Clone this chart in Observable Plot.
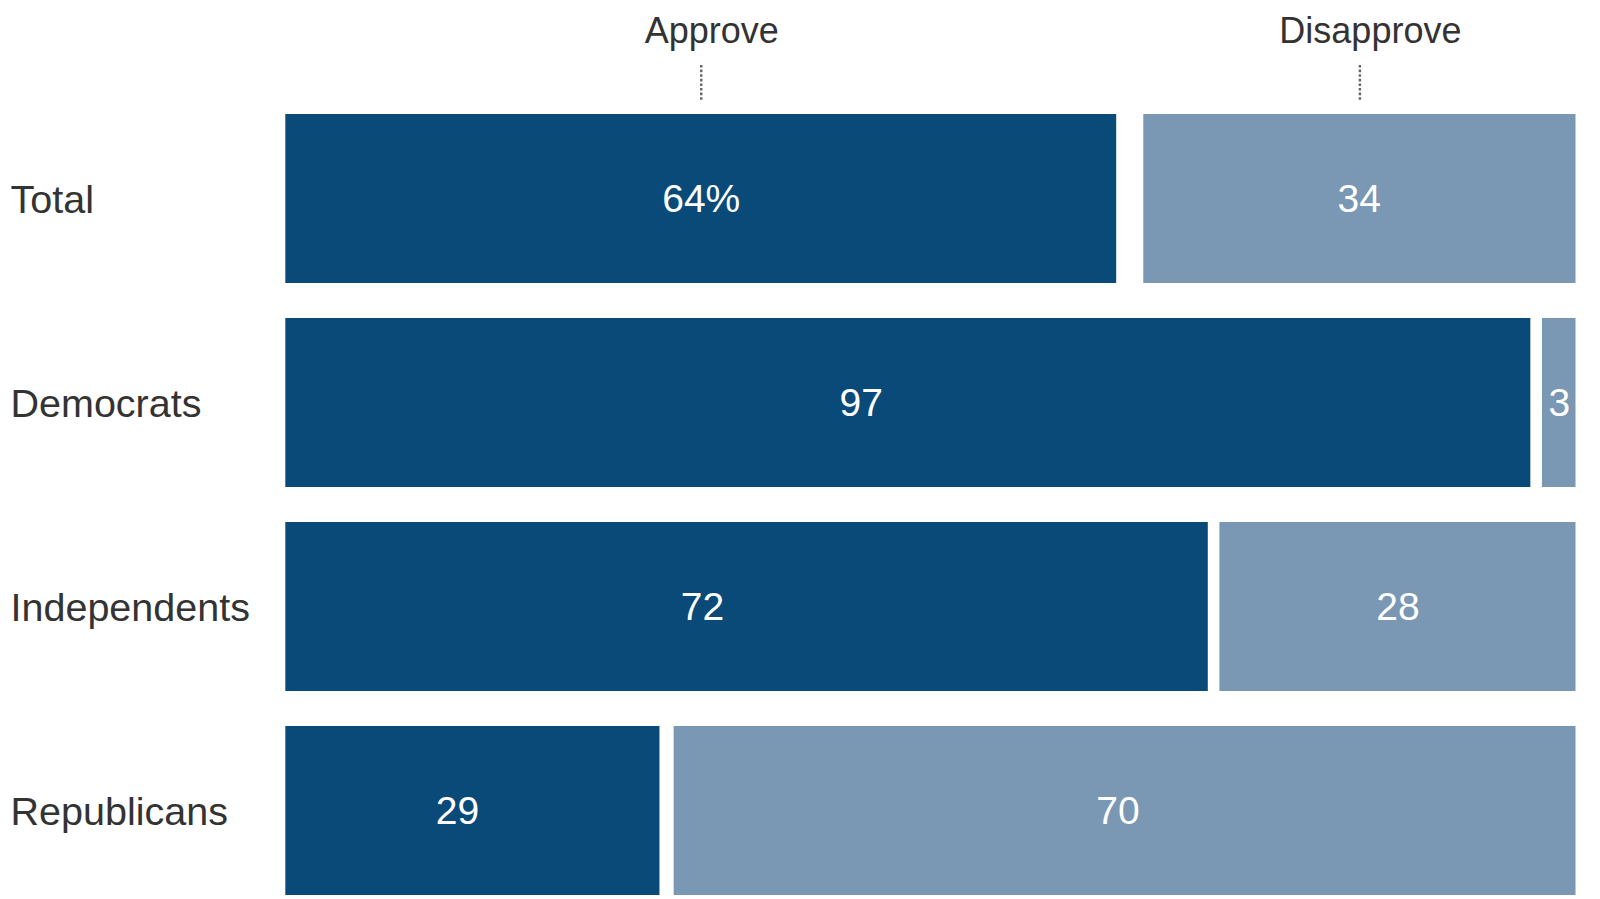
<!DOCTYPE html>
<html>
<head>
<meta charset="utf-8">
<script src="https://cdn.jsdelivr.net/npm/d3@7"></script>
<script src="https://cdn.jsdelivr.net/npm/@observablehq/plot@0.6"></script>
<style>
  html, body { margin: 0; padding: 0; background: #fff; }
  #chart svg { display: block; }
</style>
</head>
<body>
<div id="chart"></div>
<script>
// Data
const groups = ["Total", "Democrats", "Independents", "Republicans"];
const approve = [64.4, 96.5, 71.5, 29.0];      // share approving (bar extent, %)
const disapprove = [33.5, 2.6, 27.6, 69.9];    // share disapproving (bar extent, %)
const approveLabels = ["64%", "97", "72", "29"];
const disapproveLabels = ["34", "3", "28", "70"];
const headers = ["Approve", "Disapprove"];

// where the value labels sit along the 0–100 scale (as in the reference)
const approveLabelAt = [32.2, 44.6, 32.3, 13.3];
const disapproveLabelAt = [83.2, 98.7, 86.2, 64.5];

const rows = groups.map((g, i) => ({
  group: g,
  approve: approve[i],
  disapprove: disapprove[i],
  aLabel: approveLabels[i],
  dLabel: disapproveLabels[i],
  aAt: approveLabelAt[i],
  dAt: disapproveLabelAt[i]
}));
const total = rows[0];
const headerRows = [
  {label: headers[0], x: total.approve / 2},
  {label: headers[1], x: 100 - total.disapprove / 2}
];

const DARK = "#0a4a79";
const LIGHT = "#7a97b3";
const FONT = "'Liberation Sans', Arial, Helvetica, sans-serif";

const chart = Plot.plot({
  width: 1600,
  height: 899,
  marginLeft: 285.3,
  marginRight: 24.5,
  marginTop: 114.3,
  marginBottom: 3.7,
  style: {fontFamily: FONT, background: "#fff", overflow: "visible"},
  x: {domain: [0, 100], axis: null},
  y: {domain: groups, axis: null, paddingInner: 0.1716, paddingOuter: 0},
  marks: [
    Plot.rectX(rows, {y: "group", x1: 0, x2: "approve", fill: DARK}),
    Plot.rectX(rows, {y: "group", x1: d => 100 - d.disapprove, x2: 100, fill: LIGHT}),
    Plot.text(rows, {
      y: "group", x: "aAt", text: "aLabel",
      fill: "#fff", fontSize: 39, dy: 1
    }),
    Plot.text(rows, {
      y: "group", x: "dAt", text: "dLabel",
      fill: "#fff", fontSize: 39, dy: 1
    }),
    Plot.text(rows, {
      y: "group", text: "group", frameAnchor: "left", textAnchor: "start",
      dx: -275.3, dy: 1, fill: "#333", fontSize: 39.5
    }),
    Plot.ruleX(headerRows, {
      x: "x", stroke: "#666", strokeWidth: 2.4, strokeDasharray: "2.6,2",
      insetTop: -49.3, insetBottom: 795.3
    }),
    Plot.text(headerRows, {
      x: "x", text: "label", frameAnchor: "top", lineAnchor: "middle",
      dy: -83.3, dx: 10.5, fill: "#333", fontSize: 36
    })
  ]
});
document.getElementById("chart").append(chart);
</script>
</body>
</html>
